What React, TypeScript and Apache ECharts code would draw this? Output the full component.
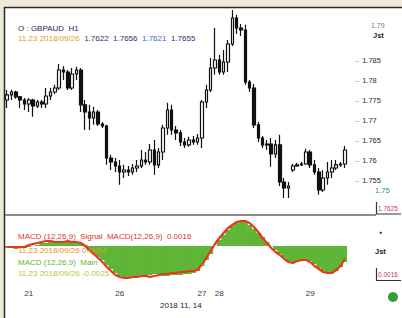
import React, { useEffect, useRef } from 'react';
import * as echarts from 'echarts';

// [open, close, low, high]
const candles: number[][] = [
  [1.7750, 1.7763, 1.7730, 1.7775],
  [1.7763, 1.7770, 1.7750, 1.7775],
  [1.7770, 1.7758, 1.7753, 1.7773],
  [1.7758, 1.7750, 1.7730, 1.7760],
  [1.7750, 1.7740, 1.7725, 1.7755],
  [1.7740, 1.7750, 1.7720, 1.7755],
  [1.7750, 1.7735, 1.7708, 1.7753],
  [1.7735, 1.7745, 1.7730, 1.7750],
  [1.7745, 1.7740, 1.7730, 1.7750],
  [1.7740, 1.7760, 1.7730, 1.7780],
  [1.7760, 1.7770, 1.7750, 1.7780],
  [1.7770, 1.7780, 1.7765, 1.7788],
  [1.7780, 1.7825, 1.7775, 1.7840],
  [1.7825, 1.7820, 1.7800, 1.7835],
  [1.7820, 1.7780, 1.7775, 1.7825],
  [1.7780, 1.7815, 1.7775, 1.7830],
  [1.7815, 1.7825, 1.7800, 1.7833],
  [1.7825, 1.7738, 1.7720, 1.7830],
  [1.7738, 1.7720, 1.7675, 1.7750],
  [1.7720, 1.7705, 1.7675, 1.7738],
  [1.7705, 1.7720, 1.7688, 1.7733],
  [1.7720, 1.7690, 1.7685, 1.7725],
  [1.7690, 1.7685, 1.7680, 1.7695],
  [1.7685, 1.7605, 1.7588, 1.7688],
  [1.7605, 1.7595, 1.7575, 1.7613],
  [1.7595, 1.7585, 1.7570, 1.7605],
  [1.7585, 1.7570, 1.7538, 1.7600],
  [1.7570, 1.7575, 1.7555, 1.7588],
  [1.7575, 1.7570, 1.7560, 1.7585],
  [1.7570, 1.7580, 1.7563, 1.7590],
  [1.7580, 1.7585, 1.7570, 1.7600],
  [1.7585, 1.7600, 1.7580, 1.7625],
  [1.7600, 1.7595, 1.7588, 1.7620],
  [1.7595, 1.7625, 1.7588, 1.7640],
  [1.7625, 1.7588, 1.7563, 1.7650],
  [1.7588, 1.7620, 1.7580, 1.7630],
  [1.7620, 1.7680, 1.7600, 1.7688],
  [1.7680, 1.7725, 1.7663, 1.7743],
  [1.7725, 1.7675, 1.7663, 1.7738],
  [1.7675, 1.7668, 1.7650, 1.7685],
  [1.7668, 1.7645, 1.7635, 1.7675],
  [1.7645, 1.7638, 1.7630, 1.7655],
  [1.7638, 1.7650, 1.7633, 1.7658],
  [1.7650, 1.7645, 1.7638, 1.7660],
  [1.7645, 1.7655, 1.7638, 1.7665],
  [1.7655, 1.7745, 1.7630, 1.7750],
  [1.7745, 1.7775, 1.7730, 1.7788],
  [1.7775, 1.7830, 1.7770, 1.7855],
  [1.7830, 1.7850, 1.7813, 1.7930],
  [1.7850, 1.7820, 1.7813, 1.7863],
  [1.7820, 1.7845, 1.7813, 1.7875],
  [1.7845, 1.7890, 1.7820, 1.7900],
  [1.7890, 1.7955, 1.7885, 1.7975],
  [1.7955, 1.7930, 1.7915, 1.7963],
  [1.7930, 1.7925, 1.7910, 1.7940],
  [1.7925, 1.7795, 1.7788, 1.7938],
  [1.7795, 1.7780, 1.7770, 1.7800],
  [1.7780, 1.7688, 1.7680, 1.7790],
  [1.7688, 1.7655, 1.7645, 1.7695],
  [1.7655, 1.7638, 1.7630, 1.7660],
  [1.7638, 1.7640, 1.7625, 1.7650],
  [1.7640, 1.7615, 1.7583, 1.7655],
  [1.7615, 1.7638, 1.7605, 1.7650],
  [1.7638, 1.7545, 1.7535, 1.7663],
  [1.7545, 1.7530, 1.7505, 1.7555],
  [1.7530, 1.7535, 1.7505, 1.7545],
  [1.7575, 1.7585, 1.7570, 1.7590],
  [1.7585, 1.7588, 1.7583, 1.7593],
  [1.7588, 1.7590, 1.7585, 1.7595],
  [1.7590, 1.7620, 1.7588, 1.7628],
  [1.7620, 1.7588, 1.7580, 1.7625],
  [1.7588, 1.7570, 1.7563, 1.7600],
  [1.7570, 1.7525, 1.7513, 1.7580],
  [1.7525, 1.7555, 1.7520, 1.7575],
  [1.7555, 1.7570, 1.7538, 1.7595],
  [1.7570, 1.7580, 1.7555, 1.7600],
  [1.7580, 1.7588, 1.7575, 1.7600],
  [1.7588, 1.7590, 1.7583, 1.7595],
  [1.7590, 1.7625, 1.7580, 1.7635],
];

const macdHist: number[] = [
  -0.0002, -0.0002, -0.0003, -0.0002, -0.0002, -0.0001, 0.0000, 0.0001,
  0.0003, 0.0003, 0.0004, 0.0004, 0.0004, 0.0004, 0.0004, 0.0004, 0.0003, 0.0003,
  0.0001, -0.0005, -0.0008, -0.0011, -0.0014, -0.0019, -0.0023, -0.0027, -0.0030, -0.0031,
  -0.0031, -0.0030, -0.0030, -0.0029, -0.0030, -0.0029, -0.0028, -0.0028,
  -0.0030, -0.0030, -0.0029, -0.0029, -0.0029, -0.0028, -0.0028, -0.0027, -0.0025,
  -0.0020, -0.0014, -0.0008, 0.0000, 0.0006, 0.0011, 0.0016, 0.0020, 0.0023, 0.0025,
  0.0024, 0.0021, 0.0017, 0.0013, 0.0009, 0.0004, 0.0000, -0.0004, -0.0008, -0.0012,
  -0.0015, -0.0017, -0.0016, -0.0015, -0.0014, -0.0015, -0.0018, -0.0022, -0.0025,
  -0.0026, -0.0027, -0.0025, -0.0021, -0.0016,
];

const macdSignal: number[] = [
  -0.0001, -0.0001, -0.0001, -0.0001, -0.0001, 0.0001, 0.0002, 0.0003,
  0.0004, 0.0005, 0.0005, 0.0004, 0.0004, 0.0004, 0.0005, 0.0004, 0.0004, 0.0003,
  0.0000, -0.0004, -0.0008, -0.0012, -0.0016, -0.0021, -0.0025, -0.0029, -0.0031, -0.0032,
  -0.0032, -0.0031, -0.0031, -0.0030, -0.0030, -0.0031, -0.0030, -0.0029,
  -0.0028, -0.0028, -0.0027, -0.0027, -0.0026, -0.0026, -0.0025, -0.0025, -0.0024,
  -0.0018, -0.0012, -0.0005, 0.0002, 0.0008, 0.0013, 0.0018, 0.0021, 0.0024, 0.0025,
  0.0025, 0.0023, 0.0019, 0.0014, 0.0008, 0.0003, -0.0002, -0.0006, -0.0009, -0.0013,
  -0.0016, -0.0017, -0.0015, -0.0014, -0.0014, -0.0016, -0.0020, -0.0023, -0.0026,
  -0.0027, -0.0027, -0.0024, -0.0020, -0.0013,
];

const dayTickIndex = [5, 26, 45, 49, 70];
const dayTickText = ['21', '26', '27', '28', '29'];
const priceLabelMin = 1.755;
const priceLabelMax = 1.785;

const headerSymbol = 'O : GBPAUD  H1';
const headerDate = '11.23 2018/09/26';
const headerOHLC = ['1.7622', '1.7656', '1.7621', '1.7655'];
const macdLine1 = 'MACD (12,26,9)  Signal  MACD(12,26,9)  0.0016';
const macdLine2 = '11.23 2018/09/26 0.0014';
const macdLine3 = 'MACD (12,26,9)  Main  -0.0021  Signal -0.0018  Hist';
const macdLine4 = '11.23 2018/09/26 -0.0025';
const bottomDate = '2018 11, 14';
const lastPriceText = '1.7625';
const macdBoxText = '0.0016';

const FONT = '"Liberation Sans", Arial, sans-serif';

export default function App() {
  const ref = useRef<HTMLDivElement>(null);
  useEffect(() => {
    if (!ref.current) return;
    const chart = echarts.init(ref.current, undefined, { renderer: 'svg' });
    const cats = candles.map((_, i) => String(i));
    const txt = (x: number, y: number, text: string, fill: string, size = 8, weight: any = 'normal') => ({
      type: 'text', x, y, z: 50,
      style: { text, fill, fontSize: size, fontFamily: FONT, fontWeight: weight, verticalAlign: 'middle' },
    });
    chart.setOption({
      animation: false,
      backgroundColor: '#ffffff',
      grid: [
        { left: 5, right: 55, top: 0, height: 220 },
        { left: 5, right: 55, top: 214, height: 72 },
      ],
      xAxis: [
        { type: 'category', data: cats, gridIndex: 0, show: false, boundaryGap: true },
        {
          type: 'category', data: cats, gridIndex: 1, boundaryGap: true,
          axisLine: { show: false }, axisTick: { show: false },
          axisLabel: {
            interval: 0, fontSize: 8, color: '#2b3550', fontFamily: FONT, margin: 3,
            formatter: (_v: string, idx: number) => {
              const k = dayTickIndex.indexOf(idx);
              return k >= 0 ? dayTickText[k] : '';
            },
          },
        },
      ],
      yAxis: [
        {
          type: 'value', gridIndex: 0, position: 'right', min: 1.745, max: 1.8, interval: 0.005,
          splitLine: { show: false }, axisLine: { show: false }, axisTick: { show: false },
          axisLabel: {
            fontSize: 7.5, fontFamily: FONT, margin: 8, color: '#2a2a35',
            formatter: (v: number) => {
              if (v < priceLabelMin - 1e-6 || v > priceLabelMax + 1e-6) return '';
              return '{d|–}' + parseFloat(v.toFixed(3)).toString();
            },
            rich: { d: { color: '#999', fontSize: 7.5, padding: [0, 3, 0, 0] } },
          },
        },
        {
          type: 'value', gridIndex: 1, min: -0.004, max: 0.0032, show: false,
          splitLine: { show: false },
        },
      ],
      series: [
        {
          type: 'candlestick', xAxisIndex: 0, yAxisIndex: 0, data: candles, barWidth: 3,
          itemStyle: { color: '#ffffff', color0: '#111111', borderColor: '#111111', borderColor0: '#111111', borderWidth: 1.2 },
        },
        {
          type: 'bar', xAxisIndex: 1, yAxisIndex: 1, data: macdHist, barWidth: 5,
          itemStyle: { color: '#5fb536' },
        },
        {
          type: 'line', xAxisIndex: 1, yAxisIndex: 1, data: macdSignal, symbol: 'none', z: 4,
          lineStyle: { color: '#e8361e', width: 2.2 },
        },
      ],
      graphic: [
        { type: 'rect', z: 60, shape: { x: 0, y: 0, width: 4, height: 318 }, style: { fill: '#efe9d9' } },
        { type: 'rect', z: 60, shape: { x: 0, y: 0, width: 402, height: 7 }, style: { fill: '#efe9d9' } },
        { type: 'line', z: 61, shape: { x1: 4.5, y1: 7, x2: 4.5, y2: 318 }, style: { stroke: '#2a2a2a', lineWidth: 1.5 } },
        { type: 'line', z: 61, shape: { x1: 4, y1: 7.5, x2: 402, y2: 7.5 }, style: { stroke: '#2a2a2a', lineWidth: 1.5 } },
        { type: 'line', z: 61, shape: { x1: 5, y1: 215, x2: 376, y2: 215 }, style: { stroke: '#666', lineWidth: 1.5 } },
        { type: 'polyline', z: 61, shape: { points: [[376.5, 202], [376.5, 214], [401, 214]] }, style: { stroke: '#333', lineWidth: 1.2, fill: 'none' } },
        { type: 'polyline', z: 61, shape: { points: [[376.5, 268], [376.5, 280.5], [401, 280.5]] }, style: { stroke: '#333', lineWidth: 1.2, fill: 'none' } },
        txt(378, 208, lastPriceText, '#c0404a', 6.5),
        txt(378, 274, macdBoxText, '#c0404a', 6.5),
        txt(371, 25, '1.79', '#8a6a90', 7),
        txt(373, 35, 'Jst', '#222', 7.5, 'bold'),
        txt(375, 190, '1.75', '#2f8a8a', 7.5),
        txt(379, 232, '●', '#222', 5),
        txt(375, 251, 'Jst', '#222', 7.5, 'bold'),
        { type: 'circle', z: 61, shape: { cx: 393, cy: 297, r: 5 }, style: { fill: '#3a9a3a' } },
        txt(18, 28, headerSymbol, '#1f2a55', 8),
        {
          type: 'text', x: 18, y: 38, z: 50,
          style: {
            text: `{d|${headerDate}}  {n|${headerOHLC[0]}}  {n|${headerOHLC[1]}}  {b|${headerOHLC[2]}}  {n|${headerOHLC[3]}}`,
            fontSize: 8, fontFamily: FONT, verticalAlign: 'middle',
            rich: {
              d: { fill: '#e39a2e', fontSize: 8, fontFamily: FONT },
              n: { fill: '#26306a', fontSize: 8, fontFamily: FONT },
              b: { fill: '#3a6ad0', fontSize: 8, fontFamily: FONT },
            },
          },
        },
        txt(18, 236, macdLine1, '#e0321e', 8),
        txt(18, 250, macdLine2, '#e8902a', 8),
        txt(18, 262, macdLine3, '#5fb536', 8),
        txt(18, 273, macdLine4, '#bcc23a', 8),
        {
          type: 'text', x: 160, y: 305, z: 50,
          style: { text: bottomDate, fill: '#1e2540', fontSize: 8, fontFamily: FONT, verticalAlign: 'middle' },
        },
      ],
    });
    return () => chart.dispose();
  }, []);
  return <div ref={ref} style={{ position: 'fixed', left: 0, top: 0, width: 402, height: 318 }} />;
}
